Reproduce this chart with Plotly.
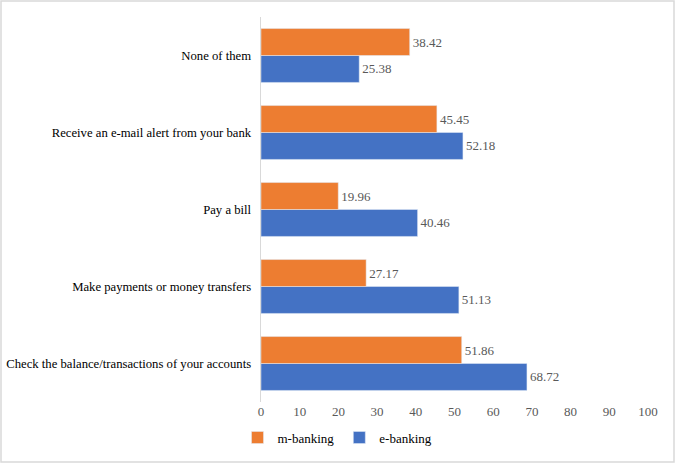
import plotly.graph_objects as go

categories = ["Check the balance/transactions of your accounts",
              "Make payments or money transfers",
              "Pay a bill",
              "Receive an e-mail alert from your bank",
              "None of them"]
m_banking = [51.86, 27.17, 19.96, 45.45, 38.42]
e_banking = [68.72, 51.13, 40.46, 52.18, 25.38]
x_ticks = list(range(0, 101, 10))

W, H = 675, 463
ml, mr, mt, mb = 261, 27, 17, 61
pw, ph = W - ml - mr, H - mt - mb

font = "Liberation Serif, Times New Roman, serif"

fig = go.Figure()
fig.add_trace(go.Bar(
    y=categories, x=e_banking, name="e-banking", orientation="h",
    marker=dict(color="#4472C4"),
    text=[f"{v:.2f}" for v in e_banking], textposition="outside",
    textfont=dict(color="#595959", size=13, family=font), cliponaxis=False,
))
fig.add_trace(go.Bar(
    y=categories, x=m_banking, name="m-banking", orientation="h",
    marker=dict(color="#ED7D31"),
    text=[f"{v:.2f}" for v in m_banking], textposition="outside",
    textfont=dict(color="#595959", size=13, family=font), cliponaxis=False,
))

fig.update_layout(
    width=W, height=H,
    margin=dict(l=ml, r=mr, t=mt, b=mb, autoexpand=False),
    paper_bgcolor="white", plot_bgcolor="white",
    barmode="group", bargap=0.3, bargroupgap=0,
    font=dict(family=font, size=13, color="#000000"),
    xaxis=dict(range=[0, 100], tickvals=x_ticks, showgrid=False, zeroline=False,
               showline=False, automargin=False,
               tickfont=dict(color="#595959", size=13, family=font), ticks=""),
    yaxis=dict(showline=True, linecolor="#D9D9D9", linewidth=1, ticks="",
               showgrid=False, automargin=False, ticksuffix="  ",
               tickfont=dict(color="#000000", size=12.7, family=font)),
    legend=dict(orientation="h", xref="container", x=0.5, xanchor="center",
                yref="container", y=0.055, yanchor="middle",
                traceorder="reversed", font=dict(size=13, color="#000000", family=font),
                itemwidth=30),
    shapes=[dict(type="rect", xref="paper", yref="paper",
                 x0=(1 - ml) / pw, x1=(W - 1 - ml) / pw,
                 y0=-(mb - 1) / ph, y1=(ph + mt - 1) / ph,
                 line=dict(color="#D9D9D9", width=1.5), fillcolor="rgba(0,0,0,0)")],
    showlegend=True,
)
fig.write_html("out.html", config={"displayModeBar": False},
               post_script="document.body.style.margin='0';document.body.style.overflow='hidden';")
